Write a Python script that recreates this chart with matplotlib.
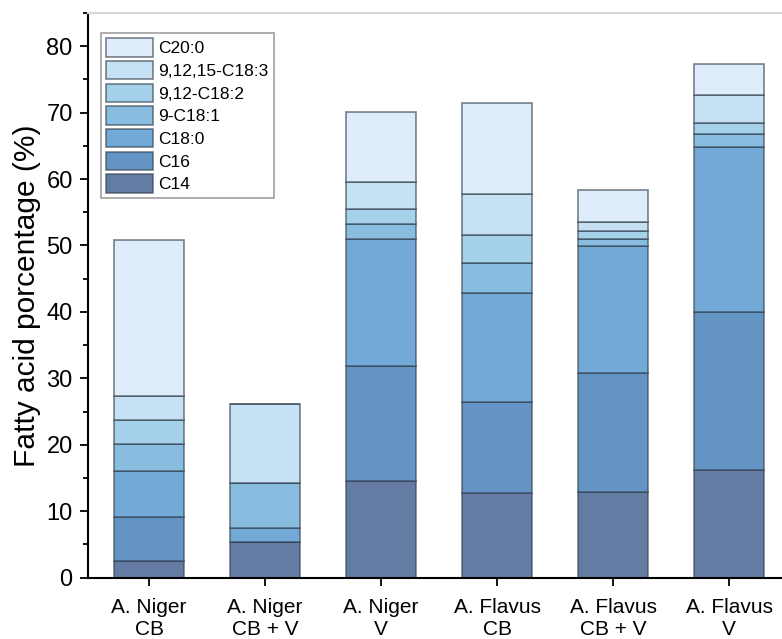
import matplotlib
matplotlib.use('Agg')
import matplotlib.pyplot as plt
import numpy as np
from matplotlib.ticker import MultipleLocator

plt.rcParams['font.family'] = ['Liberation Sans', 'DejaVu Sans']

samples = ['A. Niger\nCB', 'A. Niger\nCB + V', 'A. Niger\nV',
           'A. Flavus\nCB', 'A. Flavus\nCB + V', 'A. Flavus\nV']
acids = ['C14', 'C16', 'C18:0', '9-C18:1', '9,12-C18:2', '9,12,15-C18:3', 'C20:0']

# percentage of each fatty acid per sample
c14 = [2.5, 5.4, 14.5, 12.7, 12.9, 16.2]
c16 = [6.6, 0.0, 17.4, 13.8, 17.9, 23.8]
c18_0 = [7.0, 2.1, 19.1, 16.3, 19.1, 24.8]
c18_1 = [4.0, 6.7, 2.2, 4.5, 1.1, 2.0]
c18_2 = [3.6, 0.0, 2.3, 4.3, 1.2, 1.6]
c18_3 = [3.6, 12.0, 4.1, 6.1, 1.4, 4.2]
c20_0 = [23.5, 0.0, 10.5, 13.7, 4.7, 4.7]

colors = ['#647ba3', '#6394c4', '#73a9d6', '#89bde0', '#a5d1eb', '#c6e1f3', '#dfedfa']

fig = plt.figure(figsize=(7.82, 6.39), dpi=100)
ax = fig.add_axes([0.1125, 0.0962, 0.898, 0.8834])

x = np.arange(len(samples))
bottom = np.zeros(len(samples))
handles = []
for vals, name, col in zip([c14, c16, c18_0, c18_1, c18_2, c18_3, c20_0], acids, colors):
    vals = np.array(vals)
    bars = ax.bar(x, vals, 0.6, bottom=bottom, color=col, label=name,
                  edgecolor=(0.2, 0.25, 0.3, 0.65), linewidth=1.2)
    handles.append(bars)
    bottom += vals

ax.set_xlim(-0.526, 5.526)
ax.set_ylim(0, 85)
ax.set_xticks(x)
ax.set_xticklabels(samples, fontsize=15, linespacing=1.2)
ax.yaxis.set_major_locator(MultipleLocator(10))
ax.yaxis.set_minor_locator(MultipleLocator(5))
ax.tick_params(axis='y', labelsize=17, length=6, width=1.3, direction='out', pad=5)
ax.tick_params(axis='y', which='minor', length=3.5, width=1.3)
ax.tick_params(axis='x', length=6, width=1.3, direction='out', pad=9)
ax.set_ylabel('Fatty acid porcentage (%)', fontsize=21.5, labelpad=4)

for s in ['left', 'bottom']:
    ax.spines[s].set_linewidth(1.5)
ax.spines['top'].set_color('#d8d8d8')
ax.spines['top'].set_linewidth(1.5)
ax.spines['right'].set_visible(False)

leg = ax.legend(handles[::-1], acids[::-1], loc='upper left',
                bbox_to_anchor=(0.0185, 0.9646), fontsize=12.5,
                handlelength=2.7, handleheight=1.25, handletextpad=0.3,
                labelspacing=0.25, borderpad=0.3, borderaxespad=0,
                fancybox=False, framealpha=1)
leg.get_frame().set_edgecolor('#a0a0a0')
leg.get_frame().set_linewidth(1.2)

fig.savefig('out.png', dpi=100)
